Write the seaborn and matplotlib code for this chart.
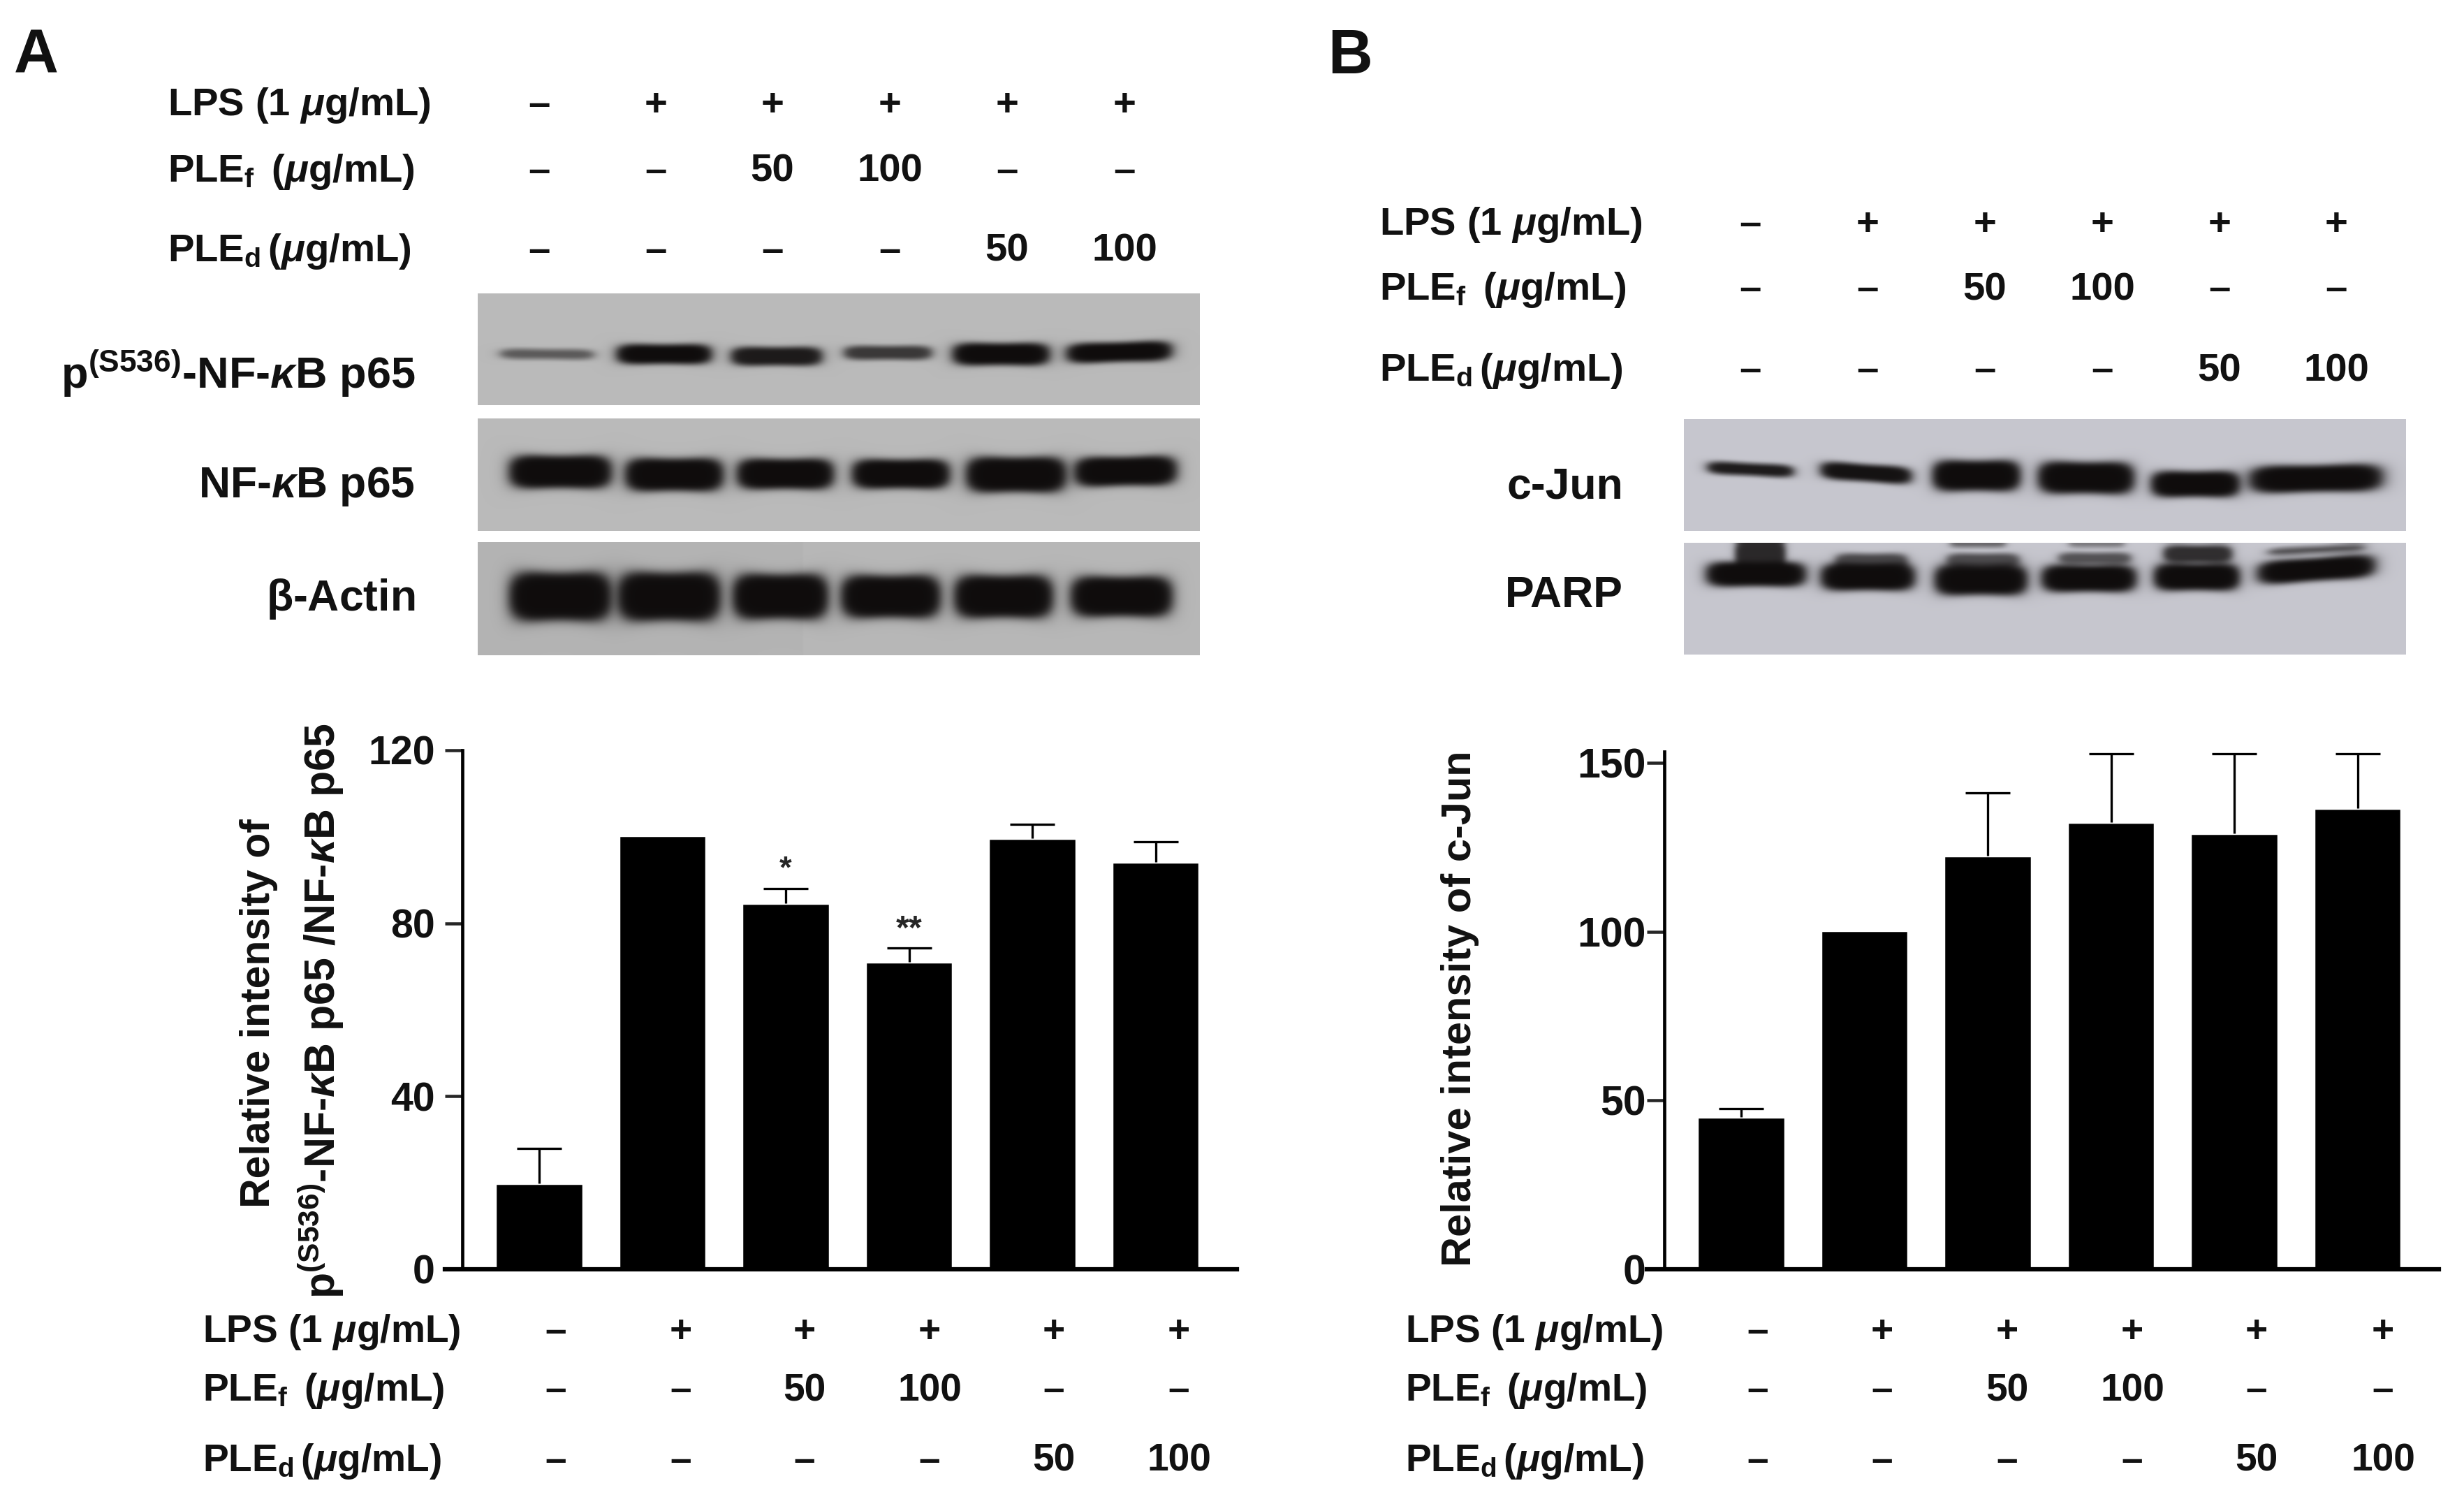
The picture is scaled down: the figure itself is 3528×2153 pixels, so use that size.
import matplotlib
matplotlib.use('Agg')
import matplotlib.pyplot as plt
import numpy as np
import seaborn as sns

W, H = 3528, 2153
DPI = 250

groups = ['ctrl', 'lps', 'f50', 'f100', 'd50', 'd100']
row_lps = ['–', '+', '+', '+', '+', '+']
row_plef = ['–', '–', '50', '100', '–', '–']
row_pled = ['–', '–', '–', '–', '50', '100']

# bar heights and upper error
p65_vals = [19.8, 100.3, 84.6, 71.1, 99.7, 94.2]
p65_errs = [8.1, 0, 3.4, 3.2, 3.2, 4.7]
p65_ticks = [0, 40, 80, 120]
jun_vals = [45, 100.4, 122.5, 132.5, 129, 136.5]
jun_errs = [2.6, 0, 18.5, 20.1, 23.6, 16.1]
jun_ticks = [0, 50, 100, 150]

LPS = r'LPS (1 $\mathit{\mu}$g/mL)'
PLEF = r'PLE$_{\mathrm{f}}$ $\,$($\mathit{\mu}$g/mL)'
PLED = r'PLE$_{\mathrm{d}}$$\,$($\mathit{\mu}$g/mL)'

# blot bands: x start, x end, y centre, half thickness, darkness, slope
bands_phos = [(714, 849, 505, 8, .55, .01), (880, 1018, 505, 16, 1, 0), (1044, 1176, 508, 15, .92, 0),
              (1206, 1333, 503, 11, .75, 0), (1361, 1502, 505, 18, 1, 0), (1524, 1677, 502, 16, 1, -.03)]
bands_p65 = [(726, 875, 674, 27, 1, 0), (892, 1035, 678, 27, 1, 0), (1052, 1193, 677, 25, 1, 0),
             (1217, 1359, 677, 24, 1, 0), (1380, 1526, 678, 29, 1, 0), (1535, 1684, 673, 24, 1, -.02)]
bands_actin = [(726, 875, 852, 40, 1, 0), (881, 1031, 852, 40, 1, 0), (1046, 1185, 852, 37, 1, 0),
               (1201, 1346, 852, 35, 1, 0), (1363, 1507, 852, 35, 1, 0), (1530, 1678, 852, 33, 1, 0)]
bands_jun = [(2442, 2567, 670, 10, .92, .05), (2604, 2736, 675, 14, .97, .07), (2764, 2892, 679, 25, 1, 0),
             (2915, 3055, 682, 26, 1, .01), (3077, 3206, 691, 21, 1, 0), (3217, 3411, 683, 22, 1, -.02)]
bands_parp = [(2440, 2585, 820, 20, 1, 0), (2482, 2555, 792, 26, .85, 0),
              (2604, 2741, 824, 22, 1, 0), (2625, 2730, 802, 13, .68, 0),
              (2767, 2902, 828, 25, 1, 0), (2785, 2890, 800, 11, .65, 0), (2790, 2870, 778, 4, .5, 0),
              (2920, 3058, 826, 22, 1, 0), (2945, 3050, 797, 9, .62, 0), (2960, 3040, 778, 4, .4, 0),
              (3081, 3206, 824, 22, 1, 0), (3095, 3195, 791, 14, .82, 0),
              (3229, 3400, 813, 19, 1, -.07), (3245, 3385, 785, 6, .6, -.05)]

sns.set_theme(style='white')
plt.rcParams['font.family'] = ['Liberation Sans', 'DejaVu Sans']
plt.rcParams['font.weight'] = 'bold'
plt.rcParams['mathtext.fontset'] = 'custom'
plt.rcParams['mathtext.rm'] = 'Liberation Sans:bold'
plt.rcParams['mathtext.it'] = 'Liberation Sans:italic:bold'
plt.rcParams['mathtext.bf'] = 'Liberation Sans:bold'
plt.rcParams['mathtext.default'] = 'rm'

fig = plt.figure(figsize=(W / DPI, H / DPI), dpi=DPI, facecolor='white')


def px_axes(left, top, right, bottom):
    return fig.add_axes([left / W, 1 - bottom / H, (right - left) / W, (bottom - top) / H])


def put(x, y, s, size=16, **kw):
    kw.setdefault('ha', 'left')
    kw.setdefault('va', 'baseline')
    fig.text(x / W, 1 - y / H, s, fontsize=size, fontweight='bold', color='#111111', **kw)


def smooth(a, n):
    # box blur along both directions, edge values repeated
    kernel = np.ones(n) / n
    p = np.pad(a, n, mode='edge')
    p = np.apply_along_axis(lambda r: np.convolve(r, kernel, mode='same'), 0, p)
    p = np.apply_along_axis(lambda r: np.convolve(r, kernel, mode='same'), 1, p)
    return p[n:-n, n:-n]


def blot(left, top, right, bottom, bands, bg, split=None):
    # soft rounded bands on a flat film background
    xx, yy = np.meshgrid(np.arange(left, right, 2.0), np.arange(top, bottom, 2.0))
    clear = np.ones_like(xx)
    for x0, x1, cy, hh, dark, slope in bands:
        cx, hw = (x0 + x1) / 2, (x1 - x0) / 2
        u = (xx - cx) / hw
        thick = hh * (0.86 + 0.22 * u ** 2)
        v = (yy - cy - slope * (xx - cx)) / thick
        d = np.abs(u) ** 4 + np.abs(v) ** 2.6
        clear *= 1 - dark / (1 + d ** 4)
    clear = smooth(clear, 4)
    ink = np.array([.06, .05, .05])
    back = np.ones(xx.shape + (3,)) * np.array(bg)
    if split is not None:
        back[xx < split] -= .014
    img = ink + clear[..., None] * (back - ink)
    ax = px_axes(left, top, right, bottom)
    ax.imshow(img, aspect='auto', interpolation='bilinear')
    ax.axis('off')


def bars(left, right, top, vals, errs, ticks, ymax, tick_size, tick_pad):
    ax = px_axes(left, top, right, 1817)
    sns.barplot(x=groups, y=vals, color='black', saturation=1, width=0.71, errorbar=None, ax=ax)
    pos = np.arange(len(vals))
    has_err = np.array(errs) > 0
    eb = ax.errorbar(pos[has_err], np.array(vals)[has_err], yerr=[np.zeros(has_err.sum()), np.array(errs)[has_err]],
                     fmt='none', ecolor='black', elinewidth=0.95, capsize=9.2, capthick=0.95)
    eb[1][0].set_visible(False)
    ax.set_xlim(-0.624, 5.66)
    ax.set_ylim(0, ymax)
    ax.set_xticks([])
    ax.set_yticks(ticks)
    ax.set_ylabel('')
    ax.tick_params(axis='y', length=7.2, width=1.3, direction='out', left=True, pad=tick_pad, labelsize=tick_size)
    for lab in ax.get_yticklabels():
        lab.set_fontweight('bold')
        lab.set_color('#111111')
    sns.despine(ax=ax)
    ax.spines['left'].set_linewidth(1.35)
    ax.spines['left'].set_color('black')
    ax.spines['bottom'].set_linewidth(1.8)
    ax.spines['bottom'].set_color('black')
    ax.spines['bottom'].set_bounds(-0.624 - 25 / 176.4, 5.66)
    ax.spines['bottom'].set_clip_on(False)
    ax.set_facecolor('none')
    return ax


def treatment_rows(label_x, xs, ys, size=15.9):
    for label, row, y in zip([LPS, PLEF, PLED], [row_lps, row_plef, row_pled], ys):
        put(label_x, y + 20, label, size=size)
        for x, s in zip(xs, row):
            put(x, y + 20, s, size=size, ha='center')


# panel letters
put(20, 105, 'A', size=25.5)
put(1901, 105, 'B', size=25.5)

# header rows above the blots
treatment_rows(240, [772, 939, 1106, 1274, 1442, 1610], [145, 240, 354], size=16.2)
treatment_rows(1975, [2506, 2674, 2842, 3010, 3178, 3345], [316, 409, 525], size=16.2)

# blots
blot(684, 420, 1718, 580, bands_phos, (.73, .73, .73))
blot(684, 599, 1718, 760, bands_p65, (.73, .73, .73))
blot(684, 776, 1718, 938, bands_actin, (.72, .72, .72), split=1150)
blot(2411, 600, 3444, 760, bands_jun, (.78, .78, .81))
blot(2411, 777, 3444, 937, bands_parp, (.78, .78, .81))

# blot labels
put(594, 556, r'p$^{\mathrm{(S536)}}$-NF-$\mathit{\kappa}$B p65', size=18.2, ha='right')
put(594, 712, r'NF-$\mathit{\kappa}$B p65', size=18, ha='right')
put(594, 874, r'$\mathrm{\beta}$-Actin', size=18, ha='right')
put(2324, 713, 'c-Jun', size=18, ha='right')
put(2324, 869, 'PARP', size=18, ha='right')

# bar charts
ax_a = bars(662, 1771, 1074, p65_vals, p65_errs, p65_ticks, 120, 16.5, 4)
ax_b = bars(2383, 3492, 1075.5, jun_vals, jun_errs, jun_ticks, 153.4, 17, 0.5)
ax_a.annotate('*', (2, p65_vals[2] + p65_errs[2]), xytext=(0, 2), textcoords='offset points',
              ha='center', va='bottom', fontsize=13, fontweight='bold')
ax_a.annotate('**', (3, p65_vals[3] + p65_errs[3]), xytext=(0, 1), textcoords='offset points',
              ha='center', va='bottom', fontsize=14, fontweight='bold')

# axis titles
put(371, 1451, 'Relative intensity of', size=17, rotation=90, ha='center', va='center')
put(460, 1447, r'p$^{\mathrm{(S536)}}$-NF-$\mathit{\kappa}$B p65 /NF-$\mathit{\kappa}$B p65', size=17.5,
    rotation=90, ha='center', va='center')
put(2090, 1444, 'Relative intensity of c-Jun', size=17.2, rotation=90, ha='center', va='center')

# rows under the bar charts
treatment_rows(290, [796, 975, 1152, 1331, 1509, 1688], [1901, 1985, 2086])
treatment_rows(2012, [2517, 2695, 2874, 3053, 3231, 3412], [1901, 1985, 2086])

fig.savefig('out.png', dpi=DPI, facecolor='white')
